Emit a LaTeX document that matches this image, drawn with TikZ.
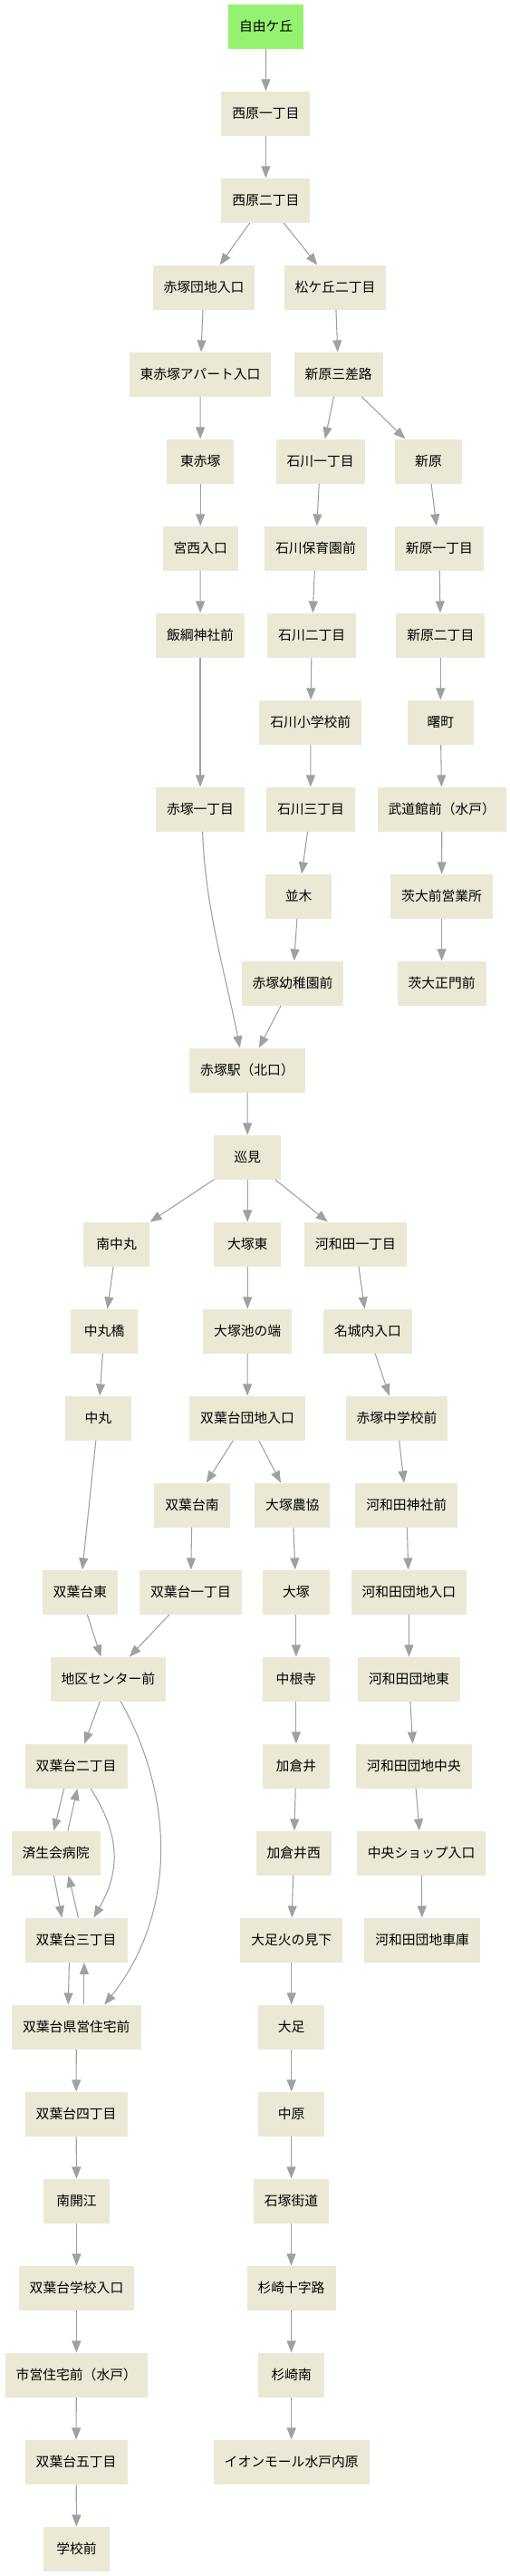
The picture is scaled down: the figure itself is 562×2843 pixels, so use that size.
\documentclass[tikz,border=0pt]{standalone}
\usepackage{fontspec}
\newfontfamily\jp{Noto Sans CJK JP}
\usetikzlibrary{arrows.meta,calc}
\definecolor{boxfill}{RGB}{235,233,213}
\definecolor{startfill}{RGB}{148,242,112}
\definecolor{edgegray}{RGB}{160,160,160}
\tikzset{
  stop/.style={rectangle, fill=boxfill, draw=none, minimum width=55.1pt, minimum height=36.75pt, inner xsep=9pt, inner ysep=0pt, font=\jp\fontsize{11.1}{13}\selectfont, text=black},
  startstop/.style={stop, fill=startfill},
  edge/.style={draw=edgegray, line width=0.8pt, -{Triangle[length=9.75pt,width=7.5pt,fill=edgegray]}},
}
\begin{document}
\begin{tikzpicture}[x=0.75pt,y=-0.75pt]
\useasboundingbox (0,0) rectangle (562,2843);
% rank 0-2
\node[startstop] (jiyu) at (293.6,29.2) {自由ケ丘};
\node[stop] (nishi1) at (293.4,125.2) {西原一丁目};
\node[stop] (nishi2) at (293.4,221.2) {西原二丁目};
% rank 3
\node[stop] (akadan) at (225,317.2) {赤塚団地入口};
\node[stop] (matsu) at (370,317.2) {松ケ丘二丁目};
% rank 4
\node[stop] (hapt) at (221,413.2) {東赤塚アパート入口};
\node[stop] (sanzaro) at (373.7,413.2) {新原三差路};
% rank 5
\node[stop] (hakatsuka) at (221.2,509.2) {東赤塚};
\node[stop] (ishi1) at (353.6,509.2) {石川一丁目};
\node[stop] (shinhara) at (473,509.2) {新原};
% rank 6
\node[stop] (miyanishi) at (221.2,605.2) {宮西入口};
\node[stop] (hoiku) at (348.4,605.2) {石川保育園前};
\node[stop] (shin1) at (484.9,605.2) {新原一丁目};
% rank 7
\node[stop] (iizuna) at (221,701.2) {飯綱神社前};
\node[stop] (ishi2) at (344.2,701.2) {石川二丁目};
\node[stop] (shin2) at (486.3,701.2) {新原二丁目};
% rank 8
\node[stop] (ishisho) at (342.8,797.2) {石川小学校前};
\node[stop] (akebono) at (486.3,797.2) {曙町};
% rank 9
\node[stop] (aka1) at (221,893.2) {赤塚一丁目};
\node[stop] (ishi3) at (343,893.2) {石川三丁目};
\node[stop] (budokan) at (487.8,893.2) {武道館前（水戸）};
% rank 10
\node[stop] (namiki) at (329.6,989.2) {並木};
\node[stop] (ibaeig) at (487.6,989.2) {茨大前営業所};
% rank 11
\node[stop] (youchien) at (323,1085.2) {赤塚幼稚園前};
\node[stop] (ibasei) at (487.6,1085.2) {茨大正門前};
% rank 12-13
\node[stop] (eki) at (273,1181.2) {赤塚駅（北口）};
\node[stop] (junken) at (273.2,1277.2) {巡見};
% rank 14
\node[stop] (minaminaka) at (128.6,1373.2) {南中丸};
\node[stop] (ohigashi) at (273.2,1373.2) {大塚東};
\node[stop] (kawada1) at (392.5,1373.2) {河和田一丁目};
% rank 15
\node[stop] (nmbashi) at (115.1,1469.2) {中丸橋};
\node[stop] (ikenohata) at (273.2,1469.2) {大塚池の端};
\node[stop] (meijo) at (406,1469.2) {名城内入口};
% rank 16
\node[stop] (nakamaru) at (108.4,1565.2) {中丸};
\node[stop] (futadan) at (273,1565.2) {双葉台団地入口};
\node[stop] (akachu) at (438,1565.2) {赤塚中学校前};
% rank 17
\node[stop] (futaminami) at (212,1661.2) {双葉台南};
\node[stop] (nokyo) at (322.8,1661.2) {大塚農協};
\node[stop] (jinja) at (448.7,1661.2) {河和田神社前};
% rank 18
\node[stop] (futahigashi) at (88.3,1757.2) {双葉台東};
\node[stop] (futa1) at (210.4,1757.2) {双葉台一丁目};
\node[stop] (otsuka) at (326.9,1757.2) {大塚};
\node[stop] (kdiri) at (451.4,1757.2) {河和田団地入口};
% rank 19
\node[stop] (chiku) at (119.4,1853.2) {地区センター前};
\node[stop] (nekoji) at (326.9,1853.2) {中根寺};
\node[stop] (kdhigashi) at (451.5,1853.2) {河和田団地東};
% rank 20
\node[stop] (futa2) at (84.1,1949.2) {双葉台二丁目};
\node[stop] (kakurai) at (326.9,1949.2) {加倉井};
\node[stop] (kdchuo) at (457,1949.2) {河和田団地中央};
% rank 21
\node[stop] (saisei) at (61.6,2045.2) {済生会病院};
\node[stop] (kakuraiw) at (324.2,2045.2) {加倉井西};
\node[stop] (shop) at (465.1,2045.2) {中央ショップ入口};
% rank 22
\node[stop] (futa3) at (84.1,2141.2) {双葉台三丁目};
\node[stop] (oashihi) at (321.7,2141.2) {大足火の見下};
\node[stop] (shako) at (466.1,2141.2) {河和田団地車庫};
% rank 23
\node[stop] (kenei) at (84.3,2237.2) {双葉台県営住宅前};
\node[stop] (oashi) at (321.7,2237.2) {大足};
% rank 24
\node[stop] (futa4) at (84.1,2333.2) {双葉台四丁目};
\node[stop] (nakahara) at (321.7,2333.2) {中原};
% rank 25
\node[stop] (kaie) at (84.5,2429.2) {南開江};
\node[stop] (ishizuka) at (321.5,2429.2) {石塚街道};
% rank 26
\node[stop] (gakkoiri) at (84.5,2525.2) {双葉台学校入口};
\node[stop] (sugisaki) at (321.5,2525.2) {杉崎十字路};
% rank 27
\node[stop] (shiei) at (84.3,2621.2) {市営住宅前（水戸）};
\node[stop] (sugiminami) at (321.7,2621.2) {杉崎南};
% rank 28
\node[stop] (futa5) at (84.1,2717.2) {双葉台五丁目};
\node[stop] (aeon) at (321.7,2717.2) {イオンモール水戸内原};
% rank 29
\node[stop] (gakkomae) at (84.5,2813.2) {学校前};

% edges
\draw[edge] (jiyu) -- (nishi1);
\draw[edge] (nishi1) -- (nishi2);
\draw[edge] (nishi2) -- (akadan);
\draw[edge] (nishi2) -- (matsu);
\draw[edge] (akadan) -- (hapt);
\draw[edge] (hapt) -- (hakatsuka);
\draw[edge] (hakatsuka) -- (miyanishi);
\draw[edge] (miyanishi) -- (iizuna);
\draw[edge] (iizuna) -- (aka1);
\draw[edge] ($(aka1.south)+(2.7,0)$) .. controls +(2.3,82.3) and +(-14.8,-76.7) .. ($(eki.north)+(-8.2,0)$);
\draw[edge] (matsu) -- (sanzaro);
\draw[edge] (sanzaro) -- (ishi1);
\draw[edge] (sanzaro) -- (shinhara);
\draw[edge] (ishi1) -- (hoiku);
\draw[edge] (hoiku) -- (ishi2);
\draw[edge] (ishi2) -- (ishisho);
\draw[edge] (ishisho) -- (ishi3);
\draw[edge] (ishi3) -- (namiki);
\draw[edge] (namiki) -- (youchien);
\draw[edge] (youchien) -- (eki);
\draw[edge] (shinhara) -- (shin1);
\draw[edge] (shin1) -- (shin2);
\draw[edge] (shin2) -- (akebono);
\draw[edge] (akebono) -- (budokan);
\draw[edge] (budokan) -- (ibaeig);
\draw[edge] (ibaeig) -- (ibasei);
\draw[edge] (eki) -- (junken);
\draw[edge] (junken) -- (minaminaka);
\draw[edge] (junken) -- (ohigashi);
\draw[edge] (junken) -- (kawada1);
\draw[edge] (minaminaka) -- (nmbashi);
\draw[edge] (nmbashi) -- (nakamaru);
\draw[edge] (nakamaru) -- (futahigashi);
\draw[edge] (ohigashi) -- (ikenohata);
\draw[edge] (ikenohata) -- (futadan);
\draw[edge] (futadan) -- (futaminami);
\draw[edge] (futadan) -- (nokyo);
\draw[edge] (futaminami) -- (futa1);
\draw[edge] (futahigashi) -- (chiku);
\draw[edge] (futa1) -- (chiku);
\draw[edge] (nokyo) -- (otsuka);
\draw[edge] (otsuka) -- (nekoji);
\draw[edge] (nekoji) -- (kakurai);
\draw[edge] (kakurai) -- (kakuraiw);
\draw[edge] (kakuraiw) -- (oashihi);
\draw[edge] (oashihi) -- (oashi);
\draw[edge] (oashi) -- (nakahara);
\draw[edge] (nakahara) -- (ishizuka);
\draw[edge] (ishizuka) -- (sugisaki);
\draw[edge] (sugisaki) -- (sugiminami);
\draw[edge] (sugiminami) -- (aeon);
\draw[edge] (kawada1) -- (meijo);
\draw[edge] (meijo) -- (akachu);
\draw[edge] (akachu) -- (jinja);
\draw[edge] (jinja) -- (kdiri);
\draw[edge] (kdiri) -- (kdhigashi);
\draw[edge] (kdhigashi) -- (kdchuo);
\draw[edge] (kdchuo) -- (shop);
\draw[edge] (shop) -- (shako);
\draw[edge] (chiku) -- (futa2);
\draw[edge] ($(chiku.south)+(13.9,0)$) .. controls +(60.7,107.3) and +(78.7,-98.7) .. ($(kenei.north)+(31,0)$);
\draw[edge] ($(futa2.south)+(-13.5,0)$) -- ($(saisei.north)+(-2.2,0)$);
\draw[edge] ($(saisei.north)+(13.3,0)$) -- ($(futa2.south)+(1.3,0)$);
\draw[edge] ($(futa2.south)+(16,0)$) .. controls +(32.9,51.3) and +(29.6,-51.7) .. ($(futa3.north)+(19.3,0)$);
\draw[edge] ($(saisei.south)+(-2.2,0)$) -- ($(futa3.north)+(-15.7,0)$);
\draw[edge] ($(futa3.north)+(2.4,0)$) -- ($(saisei.south)+(14,0)$);
\draw[edge] ($(futa3.south)+(-7.7,0)$) -- ($(kenei.north)+(-9,0)$);
\draw[edge] ($(kenei.north)+(8.6,0)$) -- ($(futa3.south)+(8.8,0)$);
\draw[edge] (kenei) -- (futa4);
\draw[edge] (futa4) -- (kaie);
\draw[edge] (kaie) -- (gakkoiri);
\draw[edge] (gakkoiri) -- (shiei);
\draw[edge] (shiei) -- (futa5);
\draw[edge] (futa5) -- (gakkomae);
\end{tikzpicture}
\end{document}
